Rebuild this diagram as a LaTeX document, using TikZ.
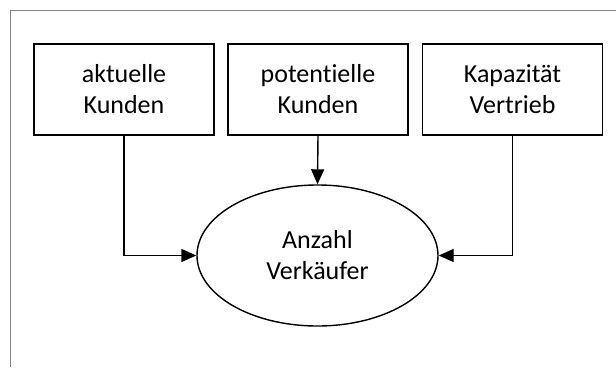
\documentclass[tikz,border=0pt]{standalone}
\usepackage{fontspec}
\setmainfont{Carlito}[Ligatures=NoCommon]
\usetikzlibrary{shapes.geometric,arrows.meta}
\definecolor{rahmengrau}{HTML}{858585}
\begin{document}
\begin{tikzpicture}[x=1pt, y=-1pt,
    kasten/.style={draw, line width=1.4pt, minimum width=180pt, minimum height=91pt,
        inner sep=0pt, align=center, font=\fontsize{26}{31}\selectfont},
    oval/.style={draw, ellipse, line width=1.4pt, minimum width=241pt, minimum height=141pt,
        inner sep=0pt, align=center, font=\fontsize{26}{31}\selectfont},
    pfeil/.style={line width=1.4pt, -{Triangle[length=15pt, width=13pt]}}]
    \useasboundingbox (0,0) rectangle (616,367);

    % Rahmen (nur oben und links)
    \draw[rahmengrau, line width=1.5pt] (10.5,367) -- (10.5,10.5) -- (616,10.5);

    % Einflussgroessen
    \node[kasten] (aktuell) at (124,89.5) {aktuelle\\Kunden};
    \node[kasten] (potentiell) at (318,89.5) {potentielle\\Kunden};
    \node[kasten] (kapazitaet) at (512.5,89.5) {Kapazität\\Vertrieb};

    % Zielgroesse
    \node[oval] (anzahl) at (317.5,255.5) {Anzahl\\Verkäufer};

    % Pfeile
    \draw[pfeil] (aktuell.south) |- (anzahl.west);
    \draw[pfeil] (potentiell.south) -- (anzahl.north);
    \draw[pfeil] (kapazitaet.south) |- (anzahl.east);
\end{tikzpicture}
\end{document}
